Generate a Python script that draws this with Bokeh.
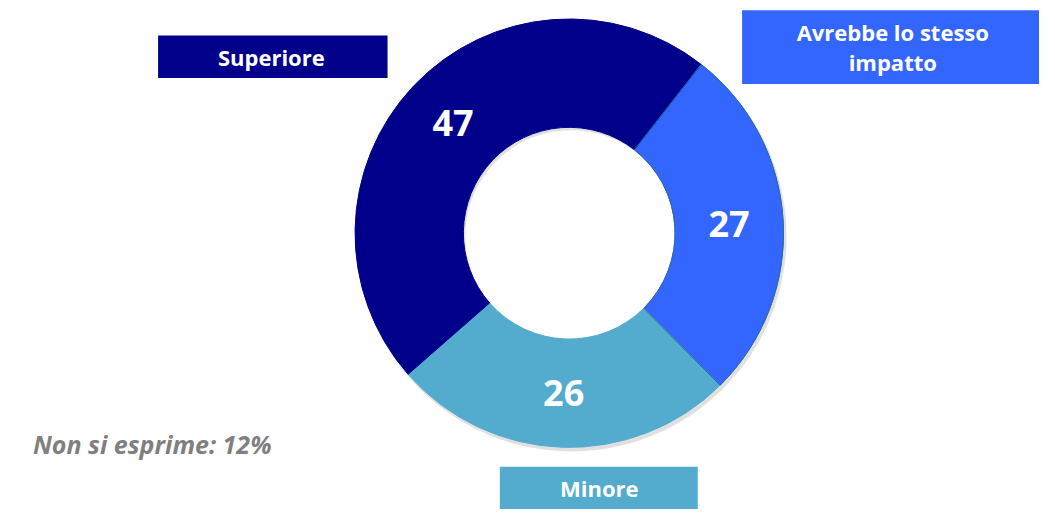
import numpy as np
from bokeh.plotting import figure
from bokeh.models import Range1d, ColumnDataSource
from bokeh.core.properties import value
from bokeh.embed import file_html
from bokeh.resources import INLINE

# ---- data ----
categories = ["Avrebbe lo stesso\nimpatto", "Minore", "Superiore"]
values = [27, 26, 47]
colors = ["#3366FF", "#53ACCE", "#00008B"]
note = "Non si esprime: 12%"

FONT = "Open Sans"

W, H = 1039, 509
REF_W, REF_H = 1055, 525
p = figure(width=W, height=H, output_backend="svg", toolbar_location=None,
           x_range=Range1d(0, REF_W), y_range=Range1d(0, REF_H),
           min_border=0, outline_line_color=None)
p.axis.visible = False
p.grid.visible = False
p.background_fill_color = "white"
p.border_fill_color = "white"

def Y(py):
    return REF_H - py

sc = W / REF_W
cx, cy = 577.5, Y(240)
r_out, r_in = 217.5 * sc, 107.5 * sc
start_deg = 52.0  # math angle where the first slice starts (clockwise)

vals = np.array(values, dtype=float)
frac = vals / vals.sum()
cum = np.concatenate([[0], np.cumsum(frac)])
starts = np.radians(start_deg - 360 * cum[:-1])
ends = np.radians(start_deg - 360 * cum[1:])
mids = (starts + ends) / 2

src = ColumnDataSource(dict(start=starts, end=ends, color=colors,
                            x=[cx] * 3, y=[cy] * 3))

RU = dict(inner_radius_units="screen", outer_radius_units="screen")

# soft shadow
p.annular_wedge(x=cx + 2, y=cy - 3, inner_radius=r_in, outer_radius=r_out + 1,
                start_angle=starts[0], end_angle=starts[0] - 2 * np.pi + 1e-4,
                direction="clock", fill_color="#000000", fill_alpha=0.12,
                line_color=None, **RU)

p.annular_wedge(x="x", y="y", inner_radius=r_in, outer_radius=r_out,
                start_angle="start", end_angle="end", direction="clock",
                fill_color="color", line_color="color",
                line_width=1, source=src, **RU)
# thin outline on the bright-blue slice
p.annular_wedge(x=cx, y=cy, inner_radius=r_in, outer_radius=r_out,
                start_angle=starts[0], end_angle=ends[0], direction="clock",
                fill_color=None, line_color="#2A6A9A", line_width=1, **RU)

r_lab = (r_in + r_out) / 2 / sc
lx = cx + r_lab * np.cos(mids)
ly = cy + r_lab * np.sin(mids) * (REF_H / H) / (REF_W / W)
p.text(x=lx, y=ly, text=[str(v) for v in values], text_color="white",
       text_font=value(FONT), text_font_style="bold", text_font_size="36px",
       text_align="center", text_baseline="middle")

# legend boxes
box_l = [753, 507, 160]
box_r = [1060, 708, 393]
box_t = [10, 481, 36]
box_b = [86, 530, 80]
p.quad(left=box_l, right=box_r, top=[Y(t) for t in box_t],
       bottom=[Y(b) for b in box_b], fill_color=colors, line_color=None)
tx = [906, 608, 275]
ty = [Y(48), Y(503), Y(58)]
p.text(x=tx, y=ty, text=categories, text_color="white",
       text_font=value(FONT), text_font_style="bold", text_font_size="22px",
       text_align="center", text_baseline="middle", text_line_height=1.0)

p.text(x=[33], y=[Y(457)], text=[note], text_color="#7F7F7F",
       text_font=value(FONT), text_font_style="bold italic",
       text_font_size="25px", text_align="left", text_baseline="middle")

open("out.html", "w").write(file_html(p, INLINE))
